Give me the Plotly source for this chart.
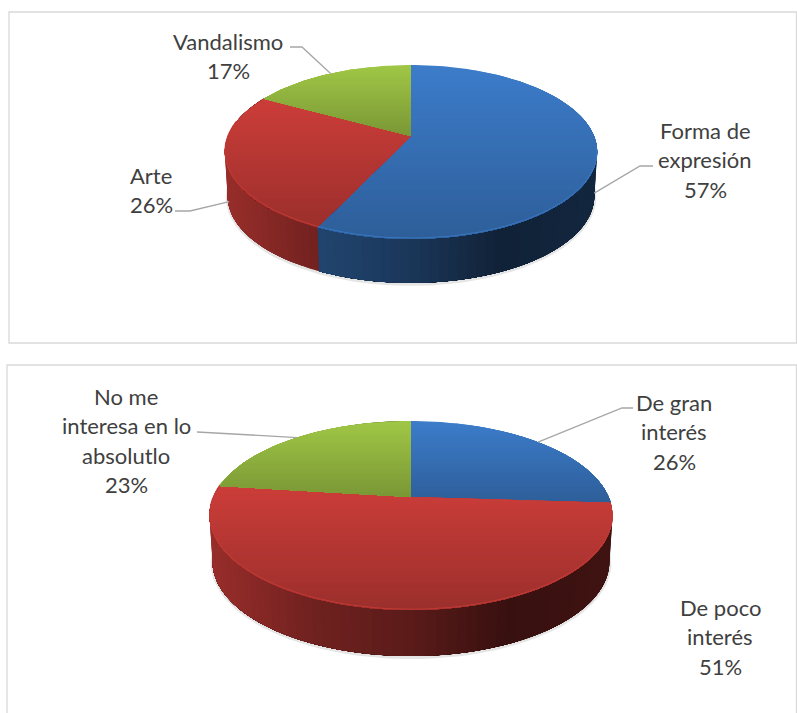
import math
import plotly.graph_objects as go

# ---- data ----
pie1_names = ["Forma de<br>expresión", "Arte", "Vandalismo"]
pie1_values = [57, 26, 17]
pie2_names = ["De gran<br>interés", "De poco<br>interés", "No me<br>interesa en lo<br>absolutlo"]
pie2_values = [26, 51, 23]
slice_colors = [(60, 124, 202), (204, 61, 57), (160, 199, 70)]

# ---- presentation ----
TEXT = "#404040"
FONT = "Lato"
pie1_geo = dict(ax=411, ay=136, w=183, h=84, k=0.1837, depth=44)
pie2_geo = dict(ax=411, ay=497, w=197.6, h=90.9, k=0.196, depth=46)
pie1_text = [(705, 130), (151, 175), (228, 41)]
pie2_text = [(674, 402), (720, 607), (126, 396)]
pie1_leaders = [[(640, 166), (653, 166)], [(190, 211), (175, 211)], [(302, 47), (290, 47)]]
pie2_leaders = [[(622, 408), (633, 408)], None, [(208, 432), (197, 432)]]
pie1_leader_wall = [38, 38, 0]
pie2_leader_wall = [0, 0, 0]

fig = go.Figure()


def project(g, theta):
    X, Y = math.sin(theta), math.cos(theta)
    d = 1 + g["k"] * Y
    return g["ax"] + g["w"] * X / d, g["ay"] - g["h"] * Y / d


def lower(g, p):
    return g["ax"] + (p[0] - g["ax"]) * 0.985, p[1] + g["depth"]


def rgb(c, f=1.0):
    return "rgb(%d,%d,%d)" % tuple(max(0, min(255, round(v * f))) for v in c)


def clip_top(poly, y0):
    """Keep the part of the polygon at or below the pixel row y0."""
    out = []
    n = len(poly)
    for i in range(n):
        a, b = poly[i], poly[(i + 1) % n]
        ia, ib = a[1] >= y0, b[1] >= y0
        if ia:
            out.append(a)
        if ia != ib:
            t = (y0 - a[1]) / (b[1] - a[1])
            out.append((a[0] + t * (b[0] - a[0]), y0))
    return out


def fill(poly, color):
    xs = [p[0] for p in poly] + [poly[0][0]]
    ys = [p[1] for p in poly] + [poly[0][1]]
    fig.add_trace(go.Scatter(x=xs, y=ys, mode="lines", fill="toself", fillcolor=color,
                             line=dict(width=0), hoverinfo="skip", showlegend=False))


def line(pts, color, width):
    fig.add_trace(go.Scatter(x=[p[0] for p in pts], y=[p[1] for p in pts], mode="lines",
                             line=dict(color=color, width=width), hoverinfo="skip", showlegend=False))


def wall_shade(t):
    stops = [(-1.0, 0.74), (-0.5, 0.55), (0.0, 0.44), (0.5, 0.27), (1.0, 0.31)]
    for (a, fa), (b, fb) in zip(stops, stops[1:]):
        if t <= b:
            return fa + (fb - fa) * (t - a) / (b - a)
    return stops[-1][1]


def draw_pie(values, geo, names, text_pos, leaders, leader_wall):
    total = sum(values)
    edges = [0.0]
    for v in values:
        edges.append(edges[-1] + v / total * 2 * math.pi)

    # soft shadow under the cylinder
    shadow = [lower(geo, project(geo, math.radians(a))) for a in range(88, 273, 3)]
    line([(x, y + 1) for x, y in shadow], "rgba(0,0,0,0.10)", 4)

    # side walls: each strip reaches the end of its slice, the next one paints over it
    for i in range(len(values)):
        a0, a1 = edges[i], edges[i + 1]
        steps = max(2, int((a1 - a0) / math.radians(2.5)))
        for j in range(steps):
            u = a0 + (a1 - a0) * j / steps
            v = a0 + (a1 - a0) * (j + 1) / steps
            mid = (u + v) / 2
            if math.cos(mid) > 0.25:
                continue
            rest = [project(geo, u + (a1 - u) * n / 40) for n in range(41)]
            t = (project(geo, mid)[0] - geo["ax"]) / geo["w"]
            fill(rest + [lower(geo, p) for p in reversed(rest)], rgb(slice_colors[i], wall_shade(t)))

    # top faces, with a vertical gradient over each slice (painted top to bottom)
    for i in range(len(values)):
        a0, a1 = edges[i], edges[i + 1]
        steps = max(8, int((a1 - a0) / math.radians(1.5)))
        poly = [(geo["ax"], geo["ay"])] + [project(geo, a0 + (a1 - a0) * j / steps) for j in range(steps + 1)]
        ys = [p[1] for p in poly]
        top, bot = min(ys), max(ys)
        bands = 32
        for b in range(bands):
            part = clip_top(poly, top + (bot - top) * b / bands)
            if len(part) >= 3:
                fill(part, rgb(slice_colors[i], 1 - 0.24 * (b + 0.5) / bands))

    # light bevel along the front rim
    for i in range(len(values)):
        a0, a1 = edges[i], edges[i + 1]
        lo, hi = max(a0, math.radians(100)), min(a1, math.radians(280))
        if hi > lo:
            pts = [project(geo, lo + (hi - lo) * j / 60) for j in range(61)]
            pts = [(x, y - 0.8) for x, y in pts]
            line(pts, rgb(slice_colors[i], 0.95), 1)

    # labels: one annotation per line so the line pitch matches
    for i, name in enumerate(names):
        lines = name.split("<br>") + ["%d%%" % values[i]]
        cx, cy = text_pos[i]
        for n, s in enumerate(lines):
            fig.add_annotation(x=cx, y=cy + n * 29.5, text=s, showarrow=False, xanchor="center",
                               yanchor="middle", font=dict(family=FONT, size=22, color=TEXT))
        if leaders[i]:
            mid = (edges[i] + edges[i + 1]) / 2
            px, py = project(geo, mid)
            if leader_wall[i]:
                px = geo["ax"] + (px - geo["ax"]) * 0.985
            line([(px, py + leader_wall[i])] + leaders[i], "#a6a6a6", 1.3)


# panels
fig.add_shape(type="rect", x0=9, y0=12, x1=796.5, y1=343, line=dict(color="#d9d9d9", width=1.3), layer="below")
fig.add_shape(type="rect", x0=7, y0=365, x1=796.5, y1=730, line=dict(color="#d9d9d9", width=1.3), layer="below")

draw_pie(pie1_values, pie1_geo, pie1_names, pie1_text, pie1_leaders, pie1_leader_wall)
draw_pie(pie2_values, pie2_geo, pie2_names, pie2_text, pie2_leaders, pie2_leader_wall)

fig.update_layout(
    width=797, height=713, autosize=False,
    margin=dict(l=0, r=0, t=0, b=0),
    paper_bgcolor="white", plot_bgcolor="white",
    xaxis=dict(range=[0, 797], visible=False, fixedrange=True),
    yaxis=dict(range=[713, 0], visible=False, fixedrange=True),
    showlegend=False,
)
fig.write_html("out.html", config={"displayModeBar": False, "responsive": False},
               post_script="document.body.style.margin='0';")
